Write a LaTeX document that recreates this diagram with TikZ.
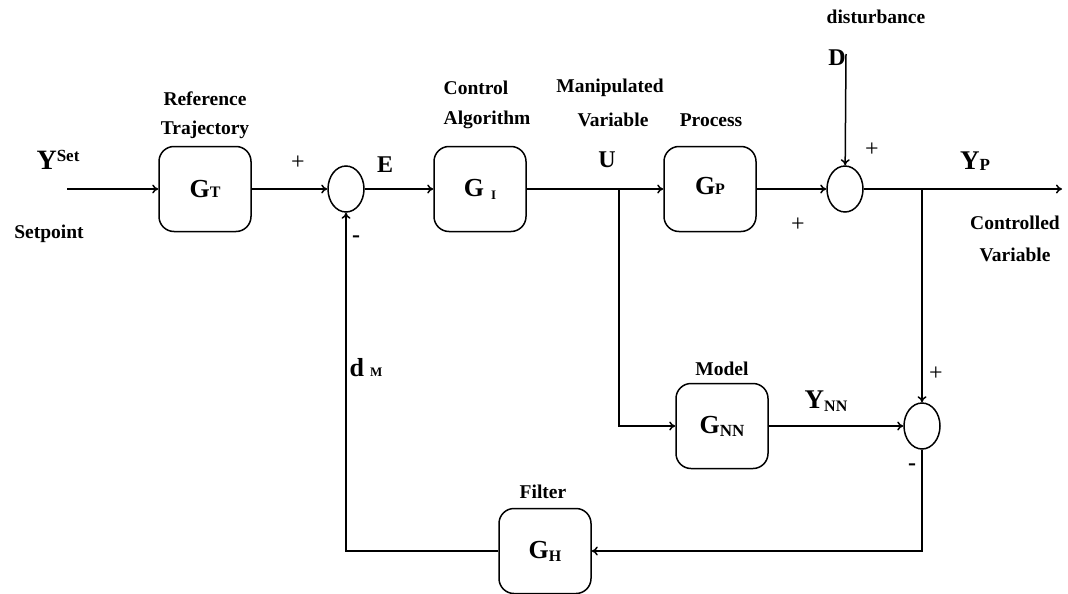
\documentclass[tikz,border=0pt]{standalone}
\usepackage{fontspec}
\setmainfont{Liberation Serif}
\usetikzlibrary{arrows.meta,shapes.geometric}
\newcommand{\fs}[1]{\fontsize{#1}{#1}\selectfont}
\begin{document}
\begin{tikzpicture}[x=1pt,y=-1pt,line width=1.5pt,
  blk/.style={draw,rounded corners=15pt,minimum width=92pt,minimum height=85pt,inner sep=0pt,font=\bfseries\fs{26}},
  sumj/.style={draw,ellipse,minimum width=36pt,minimum height=46pt,inner sep=0pt},
  lbl/.style={inner sep=0pt,font=\bfseries\fs{19.5}},
  var/.style={inner sep=0pt,font=\bfseries\fs{24}},
  sgn/.style={inner sep=0pt,font=\fs{24}},
  arr/.style={-{To[length=6pt,width=9pt]}}]
\useasboundingbox (0,0) rectangle (1068,594);

% blocks and summing junctions
\node[blk] (gt) at (205,189) {G{\fs{16}T}};
\node[sumj] (s1) at (346,189) {};
\node[blk] (gi) at (480,189) {G\hspace{7pt}{\fs{13}\raisebox{-3pt}{I}}};
\node[blk] (gp) at (710,189) {\raisebox{6pt}{G{\fs{16}P}}\hspace{20pt}};
\node[sumj] (s2) at (845,189) {};
\node[blk] (gnn) at (722,426) {G{\fs{17}\raisebox{-3pt}{NN}}\hspace{16pt}};
\node[sumj] (s3) at (922,426) {};
\node[blk] (gh) at (545,551) {G{\fs{16}\raisebox{-3pt}{H}}};

% free ends and branch points
\coordinate (ys) at (67,189);
\coordinate (yp) at (1062,189);
\coordinate (dd) at (846,54);
\coordinate (bu) at (619,189);
\coordinate (by) at (922,189);

% connectors
\draw[arr] (ys) -- (gt);
\draw[arr] (gt) -- (s1);
\draw[arr] (s1) -- (gi);
\draw[arr] (gi) -- (gp);
\draw[arr] (gp) -- (s2);
\draw[arr] (s2) -- (yp);
\draw[arr] (dd) -- (s2);
\draw[arr] (bu) |- (gnn);
\draw[arr] (gnn) -- (s3);
\draw[arr] (by) -- (s3);
\draw[arr] (s3) |- (gh);
\draw[arr] (gh) -| (s1);

% text labels
\node[lbl] (l1) at (205,99) {Reference};
\node[lbl] (l2) at (205,130) {Trajectory};
\node[lbl] (l3) at (476,88) {Control};
\node[lbl] (l4) at (487,120) {Algorithm};
\node[lbl] (l5) at (610,88) {Manipulated};
\node[lbl] (l6) at (613,120) {Variable};
\node[lbl] (l7) at (711,120) {Process};
\node[lbl] (l8) at (876,17) {disturbance};
\node[lbl] (l9) at (49,234) {Setpoint};
\node[lbl] (l10) at (1015,223) {Controlled};
\node[lbl] (l11) at (1015,255) {Variable};
\node[lbl] (l12) at (722,369) {Model};
\node[lbl] (l13) at (543,492) {Filter};

% variables
\node[var] (vset) at (58,160) {{\fs{28}Y}\raisebox{8pt}{\fs{17}Set}};
\node[var] (ve) at (385,165) {E};
\node[var] (vu) at (607,160) {U};
\node[var] (vd) at (837,58) {D};
\node[var] (vyp) at (975,161) {{\fs{27}Y}{\fs{17}\raisebox{-1pt}{P}}};
\node[var] (vynn) at (826,401) {{\fs{27}Y}{\fs{16}\raisebox{-3pt}{NN}}};
\node[var] (vdm) at (366,368) {{\fs{26}d}\hspace{6pt}{\fs{13}M}};

% signs
\node[sgn] (p1) at (298,163) {+};
\node[var] (m1) at (356,239) {-};
\node[sgn] (p2) at (872,150) {+};
\node[sgn] (p3) at (798,225) {+};
\node[sgn] (p4) at (936,374) {+};
\node[var] (m2) at (912,467) {-};
\end{tikzpicture}
\end{document}
